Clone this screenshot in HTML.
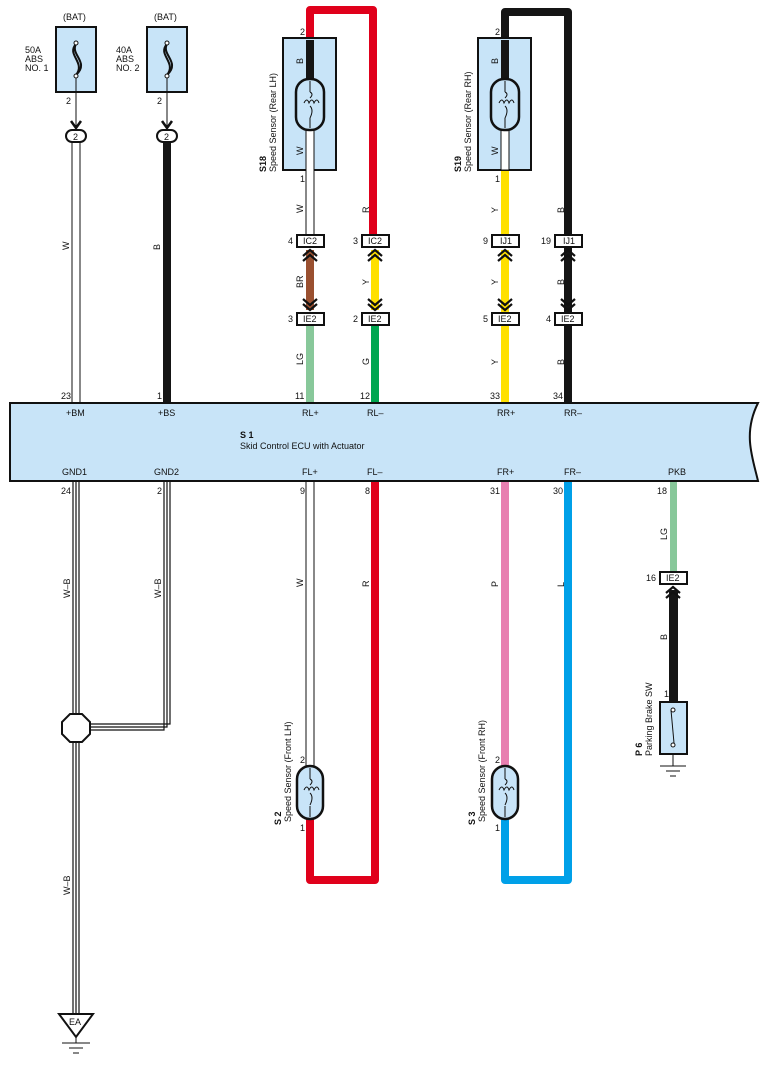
<!DOCTYPE html>
<html><head><meta charset="utf-8"><style>
html,body{margin:0;padding:0;background:#fff}
svg{display:block}
text{font-family:"Liberation Sans",sans-serif;font-size:9px;fill:#111}
</style></head><body>
<svg width="775" height="1067" viewBox="0 0 775 1067" xmlns="http://www.w3.org/2000/svg">
<defs>
<g id="chevU"><polyline points="-7,8 0,2 7,8" fill="none" stroke="#111" stroke-width="2.2"/><polyline points="-7,13 0,7 7,13" fill="none" stroke="#111" stroke-width="2.2"/></g>
<g id="chevD"><polyline points="-7,-13 0,-7 7,-13" fill="none" stroke="#111" stroke-width="2.2"/><polyline points="-7,-8 0,-2 7,-8" fill="none" stroke="#111" stroke-width="2.2"/></g>
</defs>

<!-- Fuses -->
<text x="63" y="20">(BAT)</text>
<text x="154" y="20">(BAT)</text>
<rect x="56" y="27" width="40" height="65" fill="#c8e4f8" stroke="#111" stroke-width="2"/>
<rect x="147" y="27" width="40" height="65" fill="#c8e4f8" stroke="#111" stroke-width="2"/>
<path d="M76 44 C66 55,86 62,76 75 M76 44 C70 55,90 62,76 75" fill="none" stroke="#111" stroke-width="2"/>
<path d="M167 44 C157 55,177 62,167 75 M167 44 C161 55,181 62,167 75" fill="none" stroke="#111" stroke-width="2"/>
<circle cx="76" cy="43" r="2" fill="#fff" stroke="#111"/><circle cx="76" cy="76" r="2" fill="#fff" stroke="#111"/>
<circle cx="167" cy="43" r="2" fill="#fff" stroke="#111"/><circle cx="167" cy="76" r="2" fill="#fff" stroke="#111"/>
<text x="25" y="53">50A</text><text x="25" y="62">ABS</text><text x="25" y="71">NO. 1</text>
<text x="116" y="53">40A</text><text x="116" y="62">ABS</text><text x="116" y="71">NO. 2</text>
<text x="66" y="104">2</text><text x="157" y="104">2</text>
<line x1="76" y1="78" x2="76" y2="126" stroke="#111"/>
<line x1="167" y1="78" x2="167" y2="126" stroke="#111"/>
<polyline points="71,121 76,128 81,121" fill="none" stroke="#111" stroke-width="2.5"/>
<polyline points="162,121 167,128 172,121" fill="none" stroke="#111" stroke-width="2.5"/>
<rect x="72" y="140" width="8" height="263" fill="#fff" stroke="#111" stroke-width="1"/>
<rect x="163" y="140" width="8" height="263" fill="#151515"/>
<rect x="66" y="130" width="20" height="12" rx="6" fill="#fff" stroke="#111" stroke-width="2"/>
<rect x="157" y="130" width="20" height="12" rx="6" fill="#fff" stroke="#111" stroke-width="2"/>
<text x="73" y="140" font-size="8">2</text><text x="164" y="140" font-size="8">2</text>
<text transform="translate(69,250) rotate(-90)">W</text>
<text transform="translate(160,250) rotate(-90)">B</text>
<text x="61" y="399">23</text><text x="157" y="399">1</text>

<!-- Rear LH -->
<path d="M310 40 V10 H373 V236" fill="none" stroke="#e0001b" stroke-width="8" stroke-linejoin="round"/>
<rect x="283" y="38" width="53" height="132" fill="#c8e4f8" stroke="#111" stroke-width="2"/>
<rect x="306" y="40" width="8" height="40" fill="#151515"/>
<rect x="306" y="128" width="8" height="108" fill="#fff" stroke="#111" stroke-width="1"/>
<rect x="296" y="79" width="28" height="51" rx="13" fill="#c8e4f8" stroke="#111" stroke-width="2.5"/>
<path d="M310 81 V92 M310 118 V128 M310 92 q4 2,0 6 M304 103 q3 -6,5 0 q3 -6,5 0 q3 -6,5 0 M310 106 q4 4,0 12" fill="none" stroke="#111" stroke-width="1"/>
<text x="300" y="35">2</text>
<text transform="translate(303,64) rotate(-90)">B</text>
<text transform="translate(303,155) rotate(-90)">W</text>
<text transform="translate(266,172) rotate(-90)" font-weight="bold">S18</text>
<text transform="translate(276,172) rotate(-90)">Speed Sensor (Rear LH)</text>
<text x="300" y="182">1</text>
<text transform="translate(303,213) rotate(-90)">W</text>
<text transform="translate(369,213) rotate(-90)">R</text>
<rect x="306" y="250" width="8" height="60" fill="#9a5030"/>
<rect x="306" y="320" width="8" height="83" fill="#88c89a"/>
<rect x="371" y="250" width="8" height="60" fill="#ffe000"/>
<rect x="371" y="320" width="8" height="83" fill="#00a650"/>
<g transform="translate(310,248)"><use href="#chevU"/></g>
<g transform="translate(375,248)"><use href="#chevU"/></g>
<g transform="translate(310,312)"><use href="#chevD"/></g>
<g transform="translate(375,312)"><use href="#chevD"/></g>
<rect x="297" y="235" width="27" height="12" fill="#fff" stroke="#111" stroke-width="2"/><text x="303" y="244">IC2</text>
<rect x="362" y="235" width="27" height="12" fill="#fff" stroke="#111" stroke-width="2"/><text x="368" y="244">IC2</text>
<rect x="297" y="313" width="27" height="12" fill="#fff" stroke="#111" stroke-width="2"/><text x="303" y="322">IE2</text>
<rect x="362" y="313" width="27" height="12" fill="#fff" stroke="#111" stroke-width="2"/><text x="368" y="322">IE2</text>
<text x="288" y="244">4</text><text x="353" y="244">3</text><text x="288" y="322">3</text><text x="353" y="322">2</text>
<text transform="translate(303,288) rotate(-90)">BR</text>
<text transform="translate(369,285) rotate(-90)">Y</text>
<text transform="translate(303,365) rotate(-90)">LG</text>
<text transform="translate(369,365) rotate(-90)">G</text>
<text x="295" y="399">11</text><text x="360" y="399">12</text>

<!-- Rear RH -->
<path d="M505 40 V12 H568 V403" fill="none" stroke="#151515" stroke-width="8" stroke-linejoin="round"/>
<rect x="478" y="38" width="53" height="132" fill="#c8e4f8" stroke="#111" stroke-width="2"/>
<rect x="501" y="40" width="8" height="40" fill="#151515"/>
<rect x="501" y="128" width="8" height="42" fill="#fff" stroke="#111" stroke-width="1"/>
<rect x="491" y="79" width="28" height="51" rx="13" fill="#c8e4f8" stroke="#111" stroke-width="2.5"/>
<path d="M505 81 V92 M505 118 V128 M505 92 q4 2,0 6 M499 103 q3 -6,5 0 q3 -6,5 0 q3 -6,5 0 M505 106 q4 4,0 12" fill="none" stroke="#111" stroke-width="1"/>
<text x="495" y="35">2</text>
<text transform="translate(498,64) rotate(-90)">B</text>
<text transform="translate(498,155) rotate(-90)">W</text>
<text transform="translate(461,172) rotate(-90)" font-weight="bold">S19</text>
<text transform="translate(471,172) rotate(-90)">Speed Sensor (Rear RH)</text>
<text x="495" y="182">1</text>
<rect x="501" y="171" width="8" height="65" fill="#ffe000"/>
<rect x="501" y="250" width="8" height="153" fill="#ffe000"/>
<g transform="translate(505,248)"><use href="#chevU"/></g>
<g transform="translate(568,248)"><use href="#chevU"/></g>
<g transform="translate(505,312)"><use href="#chevD"/></g>
<g transform="translate(568,312)"><use href="#chevD"/></g>
<rect x="492" y="235" width="27" height="12" fill="#fff" stroke="#111" stroke-width="2"/><text x="500" y="244">IJ1</text>
<rect x="555" y="235" width="27" height="12" fill="#fff" stroke="#111" stroke-width="2"/><text x="563" y="244">IJ1</text>
<rect x="492" y="313" width="27" height="12" fill="#fff" stroke="#111" stroke-width="2"/><text x="498" y="322">IE2</text>
<rect x="555" y="313" width="27" height="12" fill="#fff" stroke="#111" stroke-width="2"/><text x="561" y="322">IE2</text>
<text x="483" y="244">9</text><text x="541" y="244">19</text><text x="483" y="322">5</text><text x="546" y="322">4</text>
<text transform="translate(498,213) rotate(-90)">Y</text>
<text transform="translate(564,213) rotate(-90)">B</text>
<text transform="translate(498,285) rotate(-90)">Y</text>
<text transform="translate(564,285) rotate(-90)">B</text>
<text transform="translate(498,365) rotate(-90)">Y</text>
<text transform="translate(564,365) rotate(-90)">B</text>
<text x="490" y="399">33</text><text x="553" y="399">34</text>

<!-- Bottom wires -->
<g stroke="#111" stroke-width="1.2" fill="none">
<path d="M73 481 V1015 M76 481 V1015 M79 481 V1015"/>
<path d="M164 481 V730 H76 M167 481 V727 H76 M170 481 V724 H76"/>
</g>
<polygon points="70,714 82,714 90,722 90,734 82,742 70,742 62,734 62,722" fill="#fff" stroke="#111" stroke-width="2"/>
<text transform="translate(70,598) rotate(-90)">W–B</text>
<text transform="translate(161,598) rotate(-90)">W–B</text>
<text transform="translate(70,895) rotate(-90)">W–B</text>
<polygon points="59,1014 93,1014 76,1037" fill="#fff" stroke="#111" stroke-width="2"/>
<text x="69" y="1025">EA</text>
<line x1="76" y1="1037" x2="76" y2="1043" stroke="#111"/>
<line x1="62" y1="1043" x2="90" y2="1043" stroke="#111"/>
<line x1="69" y1="1048" x2="83" y2="1048" stroke="#111"/>
<line x1="73" y1="1053" x2="79" y2="1053" stroke="#111"/>

<!-- FL -->
<rect x="306" y="481" width="8" height="286" fill="#fff" stroke="#111" stroke-width="1"/>
<path d="M310 818 V880 H375 V481" fill="none" stroke="#e0001b" stroke-width="8" stroke-linejoin="round"/>
<rect x="297" y="766" width="26" height="53" rx="13" fill="#c8e4f8" stroke="#111" stroke-width="2.5"/>
<path d="M310 768 V779 M310 806 V817 M310 779 q4 2,0 6 M304 790 q3 -6,5 0 q3 -6,5 0 q3 -6,5 0 M310 793 q4 4,0 12" fill="none" stroke="#111" stroke-width="1"/>
<text x="300" y="763">2</text><text x="300" y="831">1</text>
<text transform="translate(281,825) rotate(-90)" font-weight="bold">S 2</text>
<text transform="translate(291,822) rotate(-90)">Speed Sensor (Front LH)</text>
<text transform="translate(303,587) rotate(-90)">W</text>
<text transform="translate(369,587) rotate(-90)">R</text>

<!-- FR -->
<rect x="501" y="481" width="8" height="286" fill="#e87fb0"/>
<path d="M505 818 V880 H568 V481" fill="none" stroke="#00a0e8" stroke-width="8" stroke-linejoin="round"/>
<rect x="492" y="766" width="26" height="53" rx="13" fill="#c8e4f8" stroke="#111" stroke-width="2.5"/>
<path d="M505 768 V779 M505 806 V817 M505 779 q4 2,0 6 M499 790 q3 -6,5 0 q3 -6,5 0 q3 -6,5 0 M505 793 q4 4,0 12" fill="none" stroke="#111" stroke-width="1"/>
<text x="495" y="763">2</text><text x="495" y="831">1</text>
<text transform="translate(475,825) rotate(-90)" font-weight="bold">S 3</text>
<text transform="translate(485,822) rotate(-90)">Speed Sensor (Front RH)</text>
<text transform="translate(498,587) rotate(-90)">P</text>
<text transform="translate(564,587) rotate(-90)">L</text>

<!-- PKB -->
<rect x="670" y="481" width="7" height="92" fill="#88c89a"/>
<rect x="669" y="590" width="9" height="112" fill="#151515"/>
<g transform="translate(673,585)"><use href="#chevU"/></g>
<rect x="660" y="572" width="27" height="12" fill="#fff" stroke="#111" stroke-width="2"/><text x="666" y="581">IE2</text>
<text x="646" y="581">16</text>
<text transform="translate(667,540) rotate(-90)">LG</text>
<text transform="translate(667,640) rotate(-90)">B</text>
<text x="664" y="697">1</text>
<rect x="660" y="702" width="27" height="52" fill="#c8e4f8" stroke="#111" stroke-width="2"/>
<circle cx="673" cy="710" r="2" fill="#fff" stroke="#111"/>
<circle cx="673" cy="745" r="2" fill="#fff" stroke="#111"/>
<line x1="671" y1="710" x2="674" y2="743" stroke="#111"/>
<line x1="673" y1="754" x2="673" y2="766" stroke="#111"/>
<line x1="660" y1="766" x2="686" y2="766" stroke="#111"/>
<line x1="666" y1="771" x2="680" y2="771" stroke="#111"/>
<line x1="670" y1="776" x2="676" y2="776" stroke="#111"/>
<text transform="translate(642,756) rotate(-90)" font-weight="bold">P 6</text>
<text transform="translate(652,756) rotate(-90)">Parking Brake SW</text>

<!-- ECU -->
<path d="M10 403 H758 C752 415,749 428,750 442 C751 456,755 468,758 481 H10 Z" fill="#c8e4f8" stroke="#111" stroke-width="2"/>
<text x="66" y="416">+BM</text><text x="158" y="416">+BS</text>
<text x="302" y="416">RL+</text><text x="367" y="416">RL–</text>
<text x="497" y="416">RR+</text><text x="564" y="416">RR–</text>
<text x="240" y="438" font-weight="bold">S 1</text>
<text x="240" y="449">Skid Control ECU with Actuator</text>
<text x="62" y="475">GND1</text><text x="154" y="475">GND2</text>
<text x="302" y="475">FL+</text><text x="367" y="475">FL–</text>
<text x="497" y="475">FR+</text><text x="564" y="475">FR–</text>
<text x="668" y="475">PKB</text>
<text x="61" y="494">24</text><text x="157" y="494">2</text>
<text x="300" y="494">9</text><text x="365" y="494">8</text>
<text x="490" y="494">31</text><text x="553" y="494">30</text><text x="657" y="494">18</text>
</svg>
</body></html>
